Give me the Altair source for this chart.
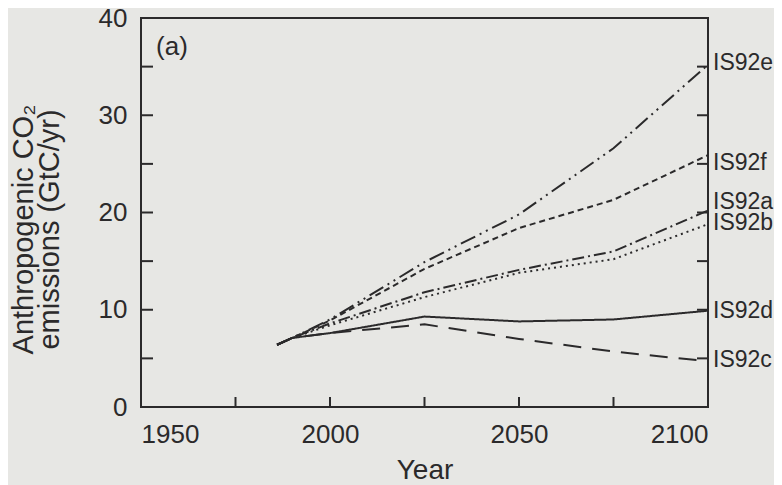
import altair as alt
import pandas as pd

years = [1986, 1990, 2000, 2025, 2050, 2075, 2100]
is92a = [6.4, 7.1, 8.6, 11.8, 14.1, 16.0, 20.2]
is92b = [6.4, 7.1, 8.4, 11.3, 13.8, 15.2, 18.8]
is92c = [6.4, 7.1, 7.6, 8.5, 7.0, 5.7, 4.7]
is92d = [6.4, 7.1, 7.6, 9.3, 8.8, 9.0, 9.9]
is92e = [6.4, 7.1, 9.0, 14.9, 19.8, 26.6, 35.2]
is92f = [6.4, 7.1, 8.9, 14.2, 18.4, 21.3, 25.9]

series_names = ["IS92a", "IS92b", "IS92c", "IS92d", "IS92e", "IS92f"]
series_values = [is92a, is92b, is92c, is92d, is92e, is92f]
label_y = [21.1, 18.9, 4.8, 9.9, 35.4, 25.1]

x_tick_labels = [1950, 2000, 2050, 2100]
y_tick_labels = [0, 10, 20, 30, 40]
minor_x_ticks = [1975, 2000, 2025, 2050, 2075]
minor_y_ticks = [5, 10, 15, 20, 25, 30, 35]

rows = []
for name, vals in zip(series_names, series_values):
    for yr, v in zip(years, vals):
        rows.append({"series": name, "year": yr, "value": v})
df = pd.DataFrame(rows)
labels_df = pd.DataFrame({"series": series_names, "value": label_y})
xt_df = pd.DataFrame({"year": minor_x_ticks})
yt_df = pd.DataFrame({"value": minor_y_ticks})
panel_df = pd.DataFrame({"year": [1954], "value": [37.0], "t": ["(a)"]})

W, H = 567, 389
INK = "#2b2a2b"
FONT = "Liberation Sans"

xs = alt.Scale(domain=[1950, 2100], nice=False, zero=False)
ys = alt.Scale(domain=[0, 40], nice=False)

x_axis = alt.Axis(values=x_tick_labels, title="Year", format="d",
                  domain=False, ticks=False, tickSize=0, grid=False,
                  labelFontSize=26, labelPadding=14, labelColor=INK,
                  labelFont=FONT, titleFont=FONT, titleFontSize=28,
                  titleFontWeight="normal", titleColor=INK, titlePadding=9)
y_axis = alt.Axis(values=y_tick_labels, title=["Anthropogenic CO₂", "emissions (GtC/yr)"],
                  domain=False, ticks=False, tickSize=0, grid=False,
                  labelFontSize=26, labelPadding=14, labelColor=INK,
                  labelFont=FONT, titleFont=FONT, titleFontSize=29,
                  titleFontWeight="normal", titleColor=INK, titlePadding=34,
                  titleLineHeight=26, titleY=211)


def X():
    return alt.X("year:Q", scale=xs, axis=x_axis)


def Y():
    return alt.Y("value:Q", scale=ys, axis=y_axis)


dashes = [[12, 4, 2, 4], [2, 4], [18, 11], [1, 0], [16, 5, 2, 5, 2, 5], [6, 4]]

lines = alt.Chart(df).mark_line(strokeWidth=2, color=INK, strokeCap="butt").encode(
    x=X(),
    y=Y(),
    strokeDash=alt.StrokeDash("series:N",
                              scale=alt.Scale(domain=series_names, range=dashes),
                              legend=None),
    detail="series:N",
)

left_ticks = alt.Chart(yt_df).mark_rule(color=INK, strokeWidth=2).encode(
    y=Y(), x=alt.value(0), x2=alt.value(12),
)
right_ticks = alt.Chart(yt_df).mark_rule(color=INK, strokeWidth=2).encode(
    y=Y(), x=alt.value(W), x2=alt.value(W - 11),
)
bottom_ticks = alt.Chart(xt_df).mark_rule(color=INK, strokeWidth=2).encode(
    x=X(), y=alt.value(H), y2=alt.value(H - 10),
)

labels = alt.Chart(labels_df).mark_text(
    align="left", baseline="middle", fontSize=23, font=FONT, color=INK
).encode(
    x=alt.value(W + 5),
    y=Y(),
    text="series:N",
)

panel = alt.Chart(panel_df).mark_text(
    align="left", baseline="middle", fontSize=26, font=FONT, color=INK
).encode(
    x=X(), y=Y(), text="t:N",
)

chart = alt.layer(lines, left_ticks, right_ticks, bottom_ticks, labels, panel).properties(
    width=W, height=H,
    autosize=alt.AutoSizeParams(type="none"),
    padding={"left": 133, "top": 10, "right": 66, "bottom": 78},
    background="#e7e7e4",
).configure_view(stroke=INK, strokeWidth=2)

chart.save("out.html", embed_options={"renderer": "svg", "actions": False})
